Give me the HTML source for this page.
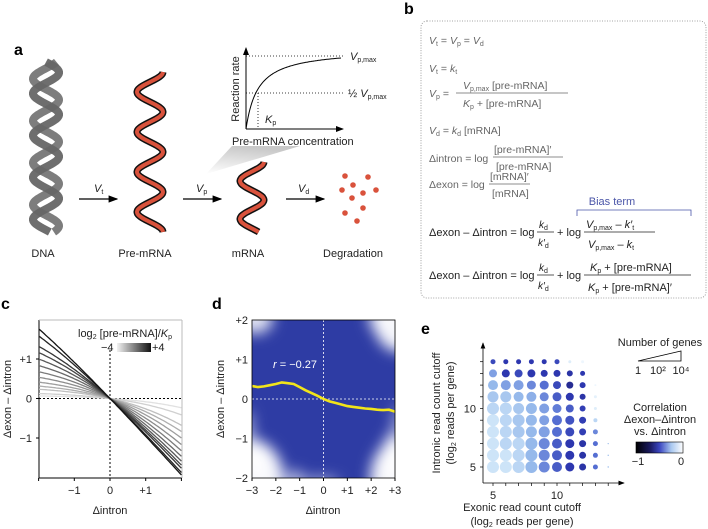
<!DOCTYPE html>
<html><head><meta charset="utf-8">
<style>
body{margin:0;background:#fff;}
svg{display:block;font-family:"Liberation Sans",sans-serif;}
.t{fill:#222;font-size:11px;}
.g{fill:#666;font-size:10.5px;}
.lbl{font-weight:bold;font-size:16px;fill:#000;}
</style></head>
<body>
<svg id="fig" width="708" height="529" viewBox="0 0 708 529" xmlns="http://www.w3.org/2000/svg">
<defs>
<linearGradient id="tri" x1="0" y1="1" x2="0.3" y2="0"><stop offset="0" stop-color="#fff"/><stop offset="1" stop-color="#bbb"/></linearGradient>
<linearGradient id="cbar" x1="0" x2="1"><stop offset="0" stop-color="#000"/><stop offset="0.3" stop-color="#1a1a60"/><stop offset="0.5" stop-color="#3b46c0"/><stop offset="0.75" stop-color="#a9c8f0"/><stop offset="1" stop-color="#fff"/></linearGradient>
<clipPath id="dclip"><rect x="252" y="320" width="143" height="158"/></clipPath>
<clipPath id="cclip"><rect x="39" y="320" width="143" height="158"/></clipPath>
<marker id="ar" markerWidth="8" markerHeight="8" refX="7" refY="4" orient="auto"><path d="M0,1 L8,4 L0,7 z" fill="#000"/></marker>
<filter id="blur" x="-50%" y="-50%" width="200%" height="200%"><feGaussianBlur stdDeviation="7"/></filter>
</defs>

<!-- Panel a -->
<text class="lbl" x="14" y="55">a</text>
<g id="helices"></g>
<line x1="79" y1="199" x2="117" y2="199" stroke="#000" stroke-width="1.2" marker-end="url(#ar)"/>
<text class="t" x="94" y="192" font-style="italic">V<tspan font-size="7" dy="2" font-style="normal">t</tspan></text>
<line x1="183" y1="199" x2="221" y2="199" stroke="#000" stroke-width="1.2" marker-end="url(#ar)"/>
<text class="t" x="196" y="192" font-style="italic">V<tspan font-size="7" dy="2" font-style="normal">p</tspan></text>
<line x1="286" y1="199" x2="324" y2="199" stroke="#000" stroke-width="1.2" marker-end="url(#ar)"/>
<text class="t" x="298" y="192" font-style="italic">V<tspan font-size="7" dy="2" font-style="normal">d</tspan></text>
<g fill="#d9523c">
<circle cx="345" cy="176" r="2.8"/><circle cx="368" cy="177" r="2.8"/><circle cx="353" cy="185" r="2.8"/><circle cx="342" cy="190" r="2.8"/><circle cx="363" cy="193" r="2.8"/><circle cx="376" cy="190" r="2.8"/><circle cx="352" cy="198" r="2.8"/><circle cx="363" cy="208" r="2.8"/><circle cx="345" cy="213" r="2.8"/><circle cx="357" cy="221" r="2.8"/>
</g>
<g class="t" font-size="10.5" text-anchor="middle">
<text x="43" y="257">DNA</text>
<text x="145" y="257">Pre-mRNA</text>
<text x="248" y="257">mRNA</text>
<text x="353" y="257">Degradation</text>
</g>
<polygon points="206,174 232,146 300,146" fill="url(#tri)" opacity="0.8"/>
<g>
<line x1="246" y1="129" x2="246" y2="48" stroke="#000" marker-end="url(#ar)"/>
<line x1="246" y1="129" x2="343" y2="129" stroke="#000" marker-end="url(#ar)"/>
<line x1="246" y1="56" x2="343" y2="56" stroke="#000" stroke-dasharray="1,2" stroke-width="0.8"/>
<line x1="246" y1="93" x2="343" y2="93" stroke="#000" stroke-dasharray="1,2" stroke-width="0.8"/>
<line x1="258" y1="93" x2="258" y2="129" stroke="#000" stroke-dasharray="1,2" stroke-width="0.8"/>
<path id="mm" fill="none" stroke="#000" stroke-width="1"/>
<text class="t" x="350" y="60" font-style="italic" font-size="11">V<tspan font-size="7" dy="2" font-style="normal">p,max</tspan></text>
<text class="t" x="348" y="97" font-size="9">½ <tspan font-style="italic" font-size="11">V</tspan><tspan font-size="7" dy="2">p,max</tspan></text>
<text class="t" x="265" y="123" font-style="italic">K<tspan font-size="7" dy="2" font-style="normal">p</tspan></text>
<text class="t" transform="translate(239,89) rotate(-90)" text-anchor="middle" font-size="10.5">Reaction rate</text>
<text class="t" x="232" y="145" font-size="10.5">Pre-mRNA concentration</text>
</g>

<!-- Panel b -->
<text class="lbl" x="404" y="14">b</text>
<rect x="421" y="21" width="285" height="277" rx="6" fill="none" stroke="#888" stroke-width="0.8" stroke-dasharray="1,1.5"/>
<g class="g">
<text x="429" y="44"><tspan font-style="italic">V</tspan><tspan font-size="7" dy="2">t</tspan><tspan dy="-2"> = </tspan><tspan font-style="italic">V</tspan><tspan font-size="7" dy="2">p</tspan><tspan dy="-2"> = </tspan><tspan font-style="italic">V</tspan><tspan font-size="7" dy="2">d</tspan></text>
<text x="429" y="72"><tspan font-style="italic">V</tspan><tspan font-size="7" dy="2">t</tspan><tspan dy="-2"> = </tspan><tspan font-style="italic">k</tspan><tspan font-size="7" dy="2">t</tspan></text>
<text x="429" y="97"><tspan font-style="italic">V</tspan><tspan font-size="7" dy="2">p</tspan><tspan dy="-2"> =</tspan></text>
<text x="463" y="89"><tspan font-style="italic">V</tspan><tspan font-size="7" dy="2">p,max</tspan><tspan dy="-2"> [pre-mRNA]</tspan></text>
<line x1="456" y1="93" x2="568" y2="93" stroke="#666" stroke-width="0.8"/>
<text x="463" y="107"><tspan font-style="italic">K</tspan><tspan font-size="7" dy="2">p</tspan><tspan dy="-2"> + [pre-mRNA]</tspan></text>
<text x="429" y="134"><tspan font-style="italic">V</tspan><tspan font-size="7" dy="2">d</tspan><tspan dy="-2"> = </tspan><tspan font-style="italic">k</tspan><tspan font-size="7" dy="2">d</tspan><tspan dy="-2"> [mRNA]</tspan></text>
<text x="429" y="162">Δintron = log</text>
<text x="494" y="153">[pre-mRNA]′</text>
<line x1="493" y1="157" x2="563" y2="157" stroke="#666" stroke-width="0.8"/>
<text x="496" y="170">[pre-mRNA]</text>
<text x="429" y="188">Δexon = log</text>
<text x="490" y="180">[mRNA]′</text>
<line x1="489" y1="184" x2="530" y2="184" stroke="#666" stroke-width="0.8"/>
<text x="492" y="197">[mRNA]</text>
</g>
<text x="612" y="205" fill="#4a55a8" font-size="11" text-anchor="middle">Bias term</text>
<path d="M577,216 V210 H691 V216" fill="none" stroke="#4a55a8" stroke-width="0.8"/>
<g class="t" font-size="11">
<text x="429" y="236">Δexon – Δintron = log</text>
<text x="539" y="228" font-style="italic" font-size="10">k<tspan font-size="7" dy="2" font-style="normal">d</tspan></text>
<line x1="537" y1="232" x2="554" y2="232" stroke="#222" stroke-width="0.8"/>
<text x="538" y="246" font-style="italic" font-size="10">k′<tspan font-size="7" dy="2" font-style="normal">d</tspan></text>
<text x="557" y="236">+ log</text>
<text x="586" y="228"><tspan font-style="italic">V</tspan><tspan font-size="7" dy="2">p,max</tspan><tspan dy="-2"> – </tspan><tspan font-style="italic">k′</tspan><tspan font-size="7" dy="2">t</tspan></text>
<line x1="584" y1="232" x2="655" y2="232" stroke="#222" stroke-width="0.8"/>
<text x="588" y="248"><tspan font-style="italic">V</tspan><tspan font-size="7" dy="2">p,max</tspan><tspan dy="-2"> – </tspan><tspan font-style="italic">k</tspan><tspan font-size="7" dy="2">t</tspan></text>
<text x="429" y="279">Δexon – Δintron = log</text>
<text x="539" y="271" font-style="italic" font-size="10">k<tspan font-size="7" dy="2" font-style="normal">d</tspan></text>
<line x1="537" y1="275" x2="554" y2="275" stroke="#222" stroke-width="0.8"/>
<text x="538" y="289" font-style="italic" font-size="10">k′<tspan font-size="7" dy="2" font-style="normal">d</tspan></text>
<text x="557" y="279">+ log</text>
<text x="590" y="271"><tspan font-style="italic">K</tspan><tspan font-size="7" dy="2">p</tspan><tspan dy="-2"> + [pre-mRNA]</tspan></text>
<line x1="584" y1="275" x2="691" y2="275" stroke="#222" stroke-width="0.8"/>
<text x="588" y="291"><tspan font-style="italic">K</tspan><tspan font-size="7" dy="2">p</tspan><tspan dy="-2"> + [pre-mRNA]′</tspan></text>
</g>

<!-- Panel c -->
<text class="lbl" x="1" y="309">c</text>
<g id="pc"></g>
<!-- Panel d -->
<text class="lbl" x="212" y="309">d</text>
<g id="pd"></g>
<!-- Panel e -->
<text class="lbl" x="421" y="334">e</text>
<g id="pe"></g>
</svg>

<script>
// ---------- Panel c data ----------
const cLevels = [-4,-3,-2,-1.5,-1,-0.5,0,0.5,1,1.5,2,3,4]; // log2 [pre-mRNA]/Kp
const cXTicks = [-1,0,1];
const cXTickLabels = ['−1','0','+1'];
const cYTicks = [1,0,-1];
const cYTickLabels = ['+1','0','−1'];
// ---------- Panel d data ----------
const dTrendX = [-3,-2.75,-2.5,-2.25,-2,-1.75,-1.5,-1.25,-1,-0.75,-0.5,-0.25,0,0.25,0.5,0.75,1,1.25,1.5,1.75,2,2.25,2.5,2.75,3];
const dTrendY = [0.33,0.30,0.32,0.35,0.38,0.42,0.40,0.38,0.30,0.22,0.15,0.08,0.0,-0.06,-0.1,-0.14,-0.18,-0.2,-0.22,-0.24,-0.25,-0.27,-0.28,-0.27,-0.32];
const dXTicks = [-3,-2,-1,0,1,2,3];
const dXTickLabels = ['−3','−2','−1','0','+1','+2','+3'];
const dYTicks = [2,1,0,-1,-2];
const dYTickLabels = ['+2','+1','0','−1','−2'];
// ---------- Panel e data (rows = intronic cutoff 5..14, cols = exonic cutoff 5..14) ----------
const eRows = [5,6,7,8,9,10,11,12,13,14];
const eCols = [5,6,7,8,9,10,11,12,13,14];
const eCorr = [
 [-.15,-.15,-.2,-.3,-.4,-.5,-.6,-.62,-.45,-.3],
 [-.15,-.15,-.2,-.3,-.4,-.5,-.6,-.62,-.45,-.3],
 [-.15,-.2,-.2,-.3,-.4,-.5,-.6,-.62,-.45,-.3],
 [-.15,-.2,-.25,-.3,-.35,-.45,-.55,-.58,-.4,-.2],
 [-.15,-.2,-.25,-.3,-.35,-.45,-.52,-.58,-.2,0],
 [-.2,-.2,-.25,-.3,-.35,-.42,-.5,-.58,-.1,0],
 [-.25,-.25,-.3,-.32,-.4,-.5,-.6,-.62,-.08,0],
 [-.3,-.35,-.35,-.4,-.45,-.55,-.66,-.6,-.05,0],
 [-.35,-.6,-.55,-.6,-.6,-.6,-.62,-.6,0,0],
 [-.55,-.6,-.6,-.6,-.6,-.55,-.1,-.05,0,0]];
const eSize = [
 [6,6,6,6,5.5,5,4.5,3.5,2.5,0.7],
 [6,6,6,6,5.5,5,4.5,3.5,2.5,0.7],
 [6,6,6,6,5.5,5,4.5,3.5,2.5,0.6],
 [6,6,6,5.5,5.5,5,4.5,3.5,2.5,0],
 [6,6,6,5.5,5,5,4.5,3.5,2,0],
 [6,6,5.5,5.5,5,4.5,4,3,1.5,0],
 [5.5,5.5,5,5,4.5,4.5,4,3,1.5,0],
 [5,5,5,4.5,4.5,4,3.5,3,1,0],
 [4,4,4,4,3.5,3.5,3,2.5,0,0],
 [2.5,2.5,2.5,2.5,2.5,2.5,1.5,1.5,0,0]];

const NS='http://www.w3.org/2000/svg';
function mk(tag, attrs, parent){const e=document.createElementNS(NS,tag);for(const k in attrs)e.setAttribute(k,attrs[k]);parent.appendChild(e);return e;}
const defs=document.querySelector('defs');

// helices
const H=document.getElementById('helices');
function sine(cx,amp,per,y0,y1,ph){let d='';for(let y=y0;y<=y1;y+=1){const x=cx+amp*Math.sin((y-y0)/per*2*Math.PI+ph);d+=(y===y0?'M':'L')+x.toFixed(1)+','+y;}return d;}
let p;
p=mk('path',{d:sine(46,13,42,62,232,0),fill:'none',stroke:'#555','stroke-width':8,opacity:0.85},H);

p=mk('path',{d:sine(46,13,42,62,232,Math.PI*0.7),fill:'none',stroke:'#666','stroke-width':8,opacity:0.85},H);

p=mk('path',{d:sine(150,13,40,72,232,Math.PI/2),fill:'none',stroke:'#111','stroke-width':7},H);

p=mk('path',{d:sine(150,13,40,72,232,Math.PI/2),fill:'none',stroke:'#d9523c','stroke-width':4},H);

p=mk('path',{d:sine(252,12,38,162,232,Math.PI/2),fill:'none',stroke:'#111','stroke-width':7},H);

p=mk('path',{d:sine(252,12,38,162,232,Math.PI/2),fill:'none',stroke:'#d9523c','stroke-width':4},H);

let md='';for(let i=0;i<=95;i++){const x=246+i;const v=i/(i+12);md+=(i?'L':'M')+x+','+(129-v*80).toFixed(1);}
document.getElementById('mm').setAttribute('d',md);

// ---------- Panel c ----------
const PC=document.getElementById('pc');
const cx0=39,cx1=182,cy0=320,cy1=478;
const cX=v=>110+v*35.7, cY=v=>398.5-v*39.5;
mk('line',{x1:cx0,y1:cy0,x2:cx0,y2:cy1,stroke:'#000'},PC);
mk('line',{x1:cx0,y1:cy1,x2:cx1,y2:cy1,stroke:'#000'},PC);
mk('line',{x1:cx0,y1:cy0,x2:cx1,y2:cy0,stroke:'#bbb'},PC);
mk('line',{x1:cx1,y1:cy0,x2:cx1,y2:cy1,stroke:'#bbb'},PC);
mk('line',{x1:cX(0),y1:cy0+30,x2:cX(0),y2:cy1,stroke:'#000','stroke-dasharray':'2,2'},PC);
mk('line',{x1:cx0,y1:cY(0),x2:cx1,y2:cY(0),stroke:'#000','stroke-dasharray':'2,2'},PC);
const cg=mk('g',{'clip-path':'url(#cclip)'},PC);
cLevels.forEach((s,i)=>{
  const r=Math.pow(2,s);let d='';
  for(let k=0;k<=80;k++){const x=-2+4*k/80;const y=Math.log2((1+r)/(1+r*Math.pow(2,x)));d+=(k?'L':'M')+cX(x).toFixed(1)+','+cY(y).toFixed(1);}
  const g=Math.round(225-(i/(cLevels.length-1))*205);
  const e=mk('path',{d:d,fill:'none',stroke:`rgb(${g},${g},${g})`,'stroke-width':1.3},cg);
  
  
});
cXTicks.forEach((v,i)=>{mk('line',{x1:cX(v),y1:cy1,x2:cX(v),y2:cy1+3,stroke:'#000'},PC);
  const t=mk('text',{x:cX(v),y:cy1+16,'text-anchor':'middle',class:'t'},PC);t.textContent=cXTickLabels[i];
  });
[-2,2].forEach(v=>mk('line',{x1:cX(v),y1:cy1,x2:cX(v),y2:cy1+3,stroke:'#000'},PC));
cYTicks.forEach((v,i)=>{mk('line',{x1:cx0-3,y1:cY(v),x2:cx0,y2:cY(v),stroke:'#000'},PC);
  const t=mk('text',{x:cx0-7,y:cY(v)+4,'text-anchor':'end',class:'t'},PC);t.textContent=cYTickLabels[i];
  });
let t=mk('text',{x:110,y:514,'text-anchor':'middle',class:'t'},PC);t.textContent='Δintron';

t=mk('text',{transform:'translate(11,399) rotate(-90)','text-anchor':'middle',class:'t'},PC);t.textContent='Δexon – Δintron';

t=mk('text',{x:78,y:337,class:'t'},PC);t.innerHTML='log<tspan font-size="7" dy="2">2</tspan><tspan dy="-2"> [pre-mRNA]/</tspan><tspan font-style="italic">K</tspan><tspan font-size="7" dy="2">p</tspan>';

t=mk('text',{x:101,y:351,class:'t'},PC);t.textContent='−4';
const cgr=mk('linearGradient',{id:'cgrad'},defs);mk('stop',{offset:0,'stop-color':'#f2f2f2'},cgr);mk('stop',{offset:1,'stop-color':'#111'},cgr);
let lg=mk('rect',{x:117,y:343,width:34,height:9,fill:'url(#cgrad)'},PC);

t=mk('text',{x:152,y:351,class:'t'},PC);t.textContent='+4';

// ---------- Panel d ----------
const PD=document.getElementById('pd');
const dX=v=>323.5+v*23.83, dY=v=>399-v*39.5;
const dg=mk('g',{'clip-path':'url(#dclip)'},PD);
let bg=mk('rect',{x:252,y:320,width:143,height:158,fill:'#2e3ca4'},dg);

const blobs=mk('g',{filter:'url(#blur)',fill:'#fff'},dg);
[[252,480,32,40,0.95],[258,462,10,22,0.8],[398,480,28,40,0.95],[392,458,10,25,0.8],[400,322,26,30,0.95],[380,318,12,14,0.7],[255,318,18,16,0.85],[248,440,6,30,0.6],[398,440,6,35,0.6],[320,482,20,5,0.6],[295,480,8,10,0.7]].forEach(b=>{
  mk('ellipse',{cx:b[0],cy:b[1],rx:b[2],ry:b[3],'fill-opacity':b[4]},blobs);});
mk('line',{x1:dX(0),y1:320,x2:dX(0),y2:478,stroke:'#fff','stroke-dasharray':'2,2','stroke-width':0.8},dg);
mk('line',{x1:252,y1:dY(0),x2:395,y2:dY(0),stroke:'#fff','stroke-dasharray':'2,2','stroke-width':0.8},dg);
let td='';dTrendX.forEach((x,i)=>{td+=(i?'L':'M')+dX(x).toFixed(1)+','+dY(dTrendY[i]).toFixed(1);});
let tl=mk('path',{d:td,fill:'none',stroke:'#f2e51a','stroke-width':2.6},dg);

mk('rect',{x:252,y:320,width:143,height:158,fill:'none',stroke:'#000','stroke-width':0.8},PD);
t=mk('text',{x:273,y:368,fill:'#fff','font-size':'11px'},PD);t.innerHTML='<tspan font-style="italic">r</tspan> = −0.27';

dXTicks.forEach((v,i)=>{mk('line',{x1:dX(v),y1:478,x2:dX(v),y2:481,stroke:'#000'},PD);
  const e=mk('text',{x:dX(v),y:494,'text-anchor':'middle',class:'t'},PD);e.textContent=dXTickLabels[i];
  });
dYTicks.forEach((v,i)=>{const e=mk('text',{x:248,y:dY(v)+4,'text-anchor':'end',class:'t'},PD);e.textContent=dYTickLabels[i];
  });
t=mk('text',{x:323,y:514,'text-anchor':'middle',class:'t'},PD);t.textContent='Δintron';

t=mk('text',{transform:'translate(224,399) rotate(-90)','text-anchor':'middle',class:'t'},PD);t.textContent='Δexon – Δintron';


// ---------- Panel e ----------
const PE=document.getElementById('pe');
const eX=v=>493+(v-5)*12.8, eY=v=>467-(v-5)*11.7;
mk('line',{x1:483,y1:483,x2:483,y2:343,stroke:'#000','stroke-width':0.8,'marker-end':'url(#ar)'},PE);
mk('line',{x1:483,y1:483,x2:624,y2:483,stroke:'#000','stroke-width':0.8,'marker-end':'url(#ar)'},PE);
eCols.forEach(c=>mk('line',{x1:eX(c),y1:483,x2:eX(c),y2:486,stroke:'#000','stroke-width':0.7},PE));
eRows.forEach(r=>mk('line',{x1:480,y1:eY(r),x2:483,y2:eY(r),stroke:'#000','stroke-width':0.7},PE));
function corrColor(v){const s=[[0,[255,255,255]],[-0.15,[205,228,248]],[-0.3,[150,185,235]],[-0.45,[85,110,210]],[-0.6,[45,55,175]],[-0.8,[20,20,80]],[-1,[0,0,0]]];
  for(let i=0;i<s.length-1;i++){if(v<=s[i][0]&&v>=s[i+1][0]){const f=(s[i][0]-v)/(s[i][0]-s[i+1][0]);const c=s[i][1].map((a,k)=>Math.round(a+(s[i+1][1][k]-a)*f));return `rgb(${c})`;}}return '#000';}
eRows.forEach((r,i)=>eCols.forEach((c,j)=>{
  const rad=eSize[i][j]; if(rad<=0) return;
  const e=mk('circle',{cx:eX(c),cy:eY(r),r:rad,fill:corrColor(eCorr[i][j])},PE);
  
  
}));
[[5,'5'],[10,'10']].forEach(a=>{const e=mk('text',{x:eX(a[0]),y:499,'text-anchor':'middle',class:'t'},PE);e.textContent=a[1];
  });
[[5,'5'],[10,'10']].forEach(a=>{const e=mk('text',{x:476,y:eY(a[0])+4,'text-anchor':'end',class:'t'},PE);e.textContent=a[1];
  });
t=mk('text',{x:522,y:511,'text-anchor':'middle',class:'t'},PE);t.textContent='Exonic read count cutoff';

t=mk('text',{x:522,y:525,'text-anchor':'middle',class:'t'},PE);t.innerHTML='(log<tspan font-size="7" dy="2">2</tspan><tspan dy="-2"> reads per gene)</tspan>';
t=mk('text',{transform:'translate(440,413) rotate(-90)','text-anchor':'middle',class:'t'},PE);t.textContent='Intronic read count cutoff';

t=mk('text',{transform:'translate(454,413) rotate(-90)','text-anchor':'middle',class:'t'},PE);t.innerHTML='(log<tspan font-size="7" dy="2">2</tspan><tspan dy="-2"> reads per gene)</tspan>';
t=mk('text',{x:660,y:346,'text-anchor':'middle',class:'t','font-size':'9.5px'},PE);t.textContent='Number of genes';

mk('path',{d:'M638,361 L681,351 L681,361 Z',fill:'none',stroke:'#000','stroke-width':0.8},PE);
[[638,'1'],[658,'10²'],[681,'10⁴']].forEach(a=>{const e=mk('text',{x:a[0],y:374,'text-anchor':'middle',class:'t','font-size':'9.5px'},PE);e.textContent=a[1];});
['Correlation','Δexon–Δintron','vs. Δintron'].forEach((s,i)=>{const e=mk('text',{x:660,y:411+i*12,'text-anchor':'middle',class:'t','font-size':'9.5px'},PE);e.textContent=s;
  });
let cb=mk('rect',{x:636,y:442,width:47,height:11,fill:'url(#cbar)',stroke:'#000','stroke-width':0.6},PE);

[[638,'−1'],[681,'0']].forEach(a=>{const e=mk('text',{x:a[0],y:465,'text-anchor':'middle',class:'t','font-size':'9.5px'},PE);e.textContent=a[1];});
</script>
</body></html>
